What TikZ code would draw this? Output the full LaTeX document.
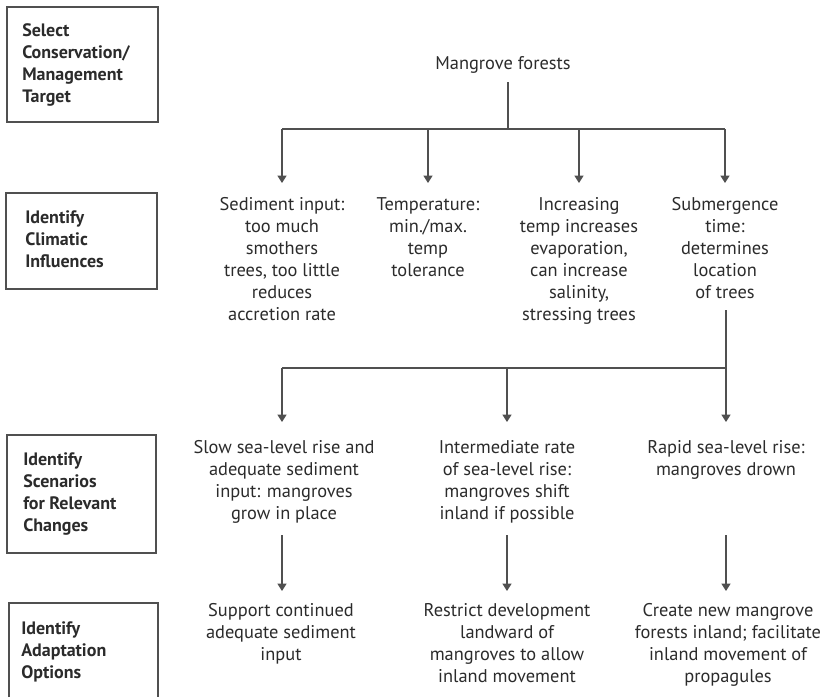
\documentclass[tikz,border=0pt]{standalone}
\usepackage{fontspec}
\setmainfont{PT Sans}
\usetikzlibrary{arrows.meta}
\definecolor{textc}{HTML}{2B2B2B}
\definecolor{linec}{HTML}{505050}
\begin{document}
\begin{tikzpicture}[x=0.75pt,y=-0.75pt,
  txt/.style={font=\fontsize{13.8}{16.5}\selectfont, align=center, inner sep=0pt, text=textc, anchor=north},
  lbl/.style={font=\fontsize{13.5}{16.5}\selectfont\bfseries, align=left, inner sep=0pt, anchor=north west, text=textc},
  box/.style={draw=linec, line width=0.8pt},
  ln/.style={draw=linec, line width=0.8pt},
  arr/.style={draw=linec, line width=0.8pt, -{Triangle[width=6.75pt,length=5.5pt]}}]
\useasboundingbox (0,0) rectangle (821,697);
% left stage boxes
\draw[box] (7,7) rectangle (158,122);
\node[lbl] (l1) at (22,23) {Select\\Conservation/\\Management\\Target};
\draw[box] (6,193) rectangle (157,289);
\node[lbl] (l2) at (25,210) {Identify\\Climatic\\Influences};
\draw[box] (7,435) rectangle (156,553);
\node[lbl] (l3) at (23,452) {Identify\\Scenarios\\for Relevant\\Changes};
\draw[box] (9,697) -- (9,603) -- (158,603) -- (158,697);
\node[lbl] (l4) at (21,621) {Identify\\Adaptation\\Options};
% target
\node[txt] (mf) at (503,56) {Mangrove forests};
% climatic influences
\node[txt] (sed) at (282,197) {Sediment input:\\too much\\smothers\\trees, too little\\reduces\\accretion rate};
\node[txt] (temp) at (428,197) {Temperature:\\min./max.\\temp\\tolerance};
\node[txt] (incr) at (579,197) {Increasing\\temp increases\\evaporation,\\can increase\\salinity,\\stressing trees};
\node[txt] (sub) at (725,197) {Submergence\\time:\\determines\\location\\of trees};
% scenarios
\node[txt] (slow) at (284,440) {Slow sea-level rise and\\adequate sediment\\input: mangroves\\grow in place};
\node[txt] (inter) at (507,440) {Intermediate rate\\of sea-level rise:\\mangroves shift\\inland if possible};
\node[txt] (rapid) at (726,440) {Rapid sea-level rise:\\mangroves drown};
% adaptation options
\node[txt] (support) at (281,603) {Support continued\\adequate sediment\\input};
\node[txt] (restrict) at (507,603) {Restrict development\\landward of\\mangroves to allow\\inland movement};
\node[txt] (create) at (728,603) {Create new mangrove\\forests inland;\ facilitate\\inland movement of\\propagules};
% connectors level 1
\coordinate (t1) at (508,82);
\coordinate (j1) at (508,129);
\draw[ln] (t1) -- (j1);
\draw[ln] (sed |- j1) -- (sub |- j1);
\draw[arr] (sed |- j1) -- +(0,54);
\draw[arr] (temp |- j1) -- +(0,54);
\draw[arr] (incr |- j1) -- +(0,54);
\draw[arr] (sub |- j1) -- +(0,54);
% connectors level 2
\coordinate (b2) at (726,310);
\coordinate (j2) at (726,368);
\draw[ln] (b2) -- (j2);
\draw[ln] (sed |- j2) -- (j2);
\draw[arr] (sed |- j2) -- +(0,54);
\draw[arr] (inter |- j2) -- +(0,54);
\draw[arr] (j2) -- +(0,54);
% connectors level 3
\coordinate (r3) at (0,535);
\draw[arr] (sed |- r3) -- +(0,56);
\draw[arr] (inter |- r3) -- +(0,56);
\draw[arr] (rapid |- r3) -- +(0,56);
\end{tikzpicture}
\end{document}
